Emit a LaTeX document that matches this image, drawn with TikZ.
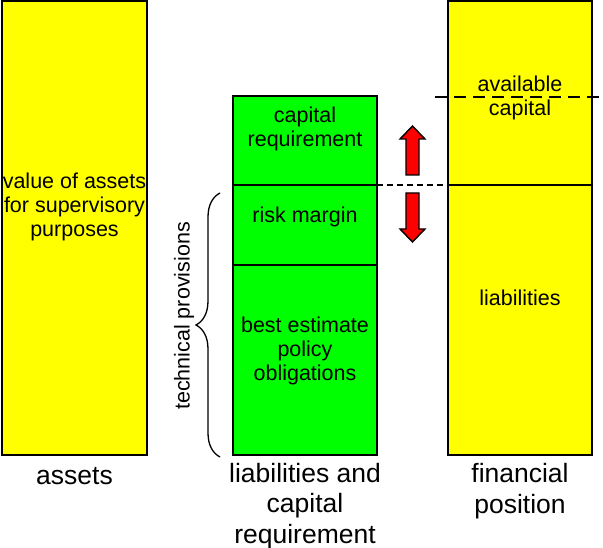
\documentclass[tikz,border=0pt]{standalone}
\usepackage{fontspec}
\setmainfont{Liberation Sans}
\usetikzlibrary{decorations.pathreplacing}
\definecolor{ylw}{RGB}{255,255,0}
\definecolor{grn}{RGB}{0,255,0}
\definecolor{rd}{RGB}{255,0,0}
\begin{document}
\begin{tikzpicture}[x=1pt,y=-1pt,
  box/.style={draw=black,line width=1.8pt,inner sep=0pt,outer sep=0pt},
  intext/.style={align=center,inner sep=0pt,font=\fontsize{21.5}{24}\selectfont},
  caption/.style={align=center,inner sep=0pt,font=\fontsize{26.5}{30.5}\selectfont},
  fat/.style={draw=black,line width=1.4pt,fill=rd,line join=miter}]
\useasboundingbox (0,0) rectangle (603,548);
% asset column
\node[box,fill=ylw,minimum width=145pt,minimum height=454pt] (assets) at (74.5,228) {};
\node[intext] (assetsT) at (74.5,207) {value of assets\\for supervisory\\purposes};
% liabilities column
\node[box,fill=grn,minimum width=144pt,minimum height=89pt] (cap) at (305,140.5) {};
\node[box,fill=grn,minimum width=144pt,minimum height=80pt] (risk) at (305,225) {};
\node[box,fill=grn,minimum width=144pt,minimum height=190pt] (best) at (305,360) {};
\node[intext] (capT) at (305,129) {capital\\requirement};
\node[intext] (riskT) at (305,217) {risk margin};
\node[intext] (bestT) at (305,351) {best estimate\\policy\\obligations};
% financial position column
\node[box,fill=ylw,minimum width=144pt,minimum height=184pt] (avail) at (520,93) {};
\node[box,fill=ylw,minimum width=144pt,minimum height=270pt] (liab) at (520,320) {};
\node[intext] (availT) at (520,98) {available\\capital};
\node[intext] (liabT) at (520,298) {liabilities};
% dashed lines
\coordinate (dA) at (435,97);
\coordinate (dB) at (603,97);
\draw[line width=1.8pt,dash pattern=on 12pt off 7pt] (dA) -- (dB);
\draw[line width=1.3pt,dash pattern=on 6pt off 4pt] (risk.north east) -- (liab.north west);
% red arrows
\draw[fat] (412.5,126) -- (425,139) -- (419,139) -- (419,175) -- (406,175) -- (406,139) -- (400,139) -- cycle;
\draw[fat] (412.5,242) -- (425,229) -- (419,229) -- (419,193) -- (406,193) -- (406,229) -- (400,229) -- cycle;
% brace
\coordinate (brB) at (220,457);
\coordinate (brT) at (220,193);
\draw[line width=1.3pt,decorate,decoration={brace,amplitude=24pt}] (brB) -- (brT);
\node[intext,rotate=90] (tp) at (184,316) {technical provisions};
% captions
\node[caption] (c1) at (74.5,476) {assets};
\node[caption] (c2) at (305,506) {liabilities and\\capital\\requirement};
\node[caption] (c3) at (520,491) {financial\\position};
\end{tikzpicture}
\end{document}
